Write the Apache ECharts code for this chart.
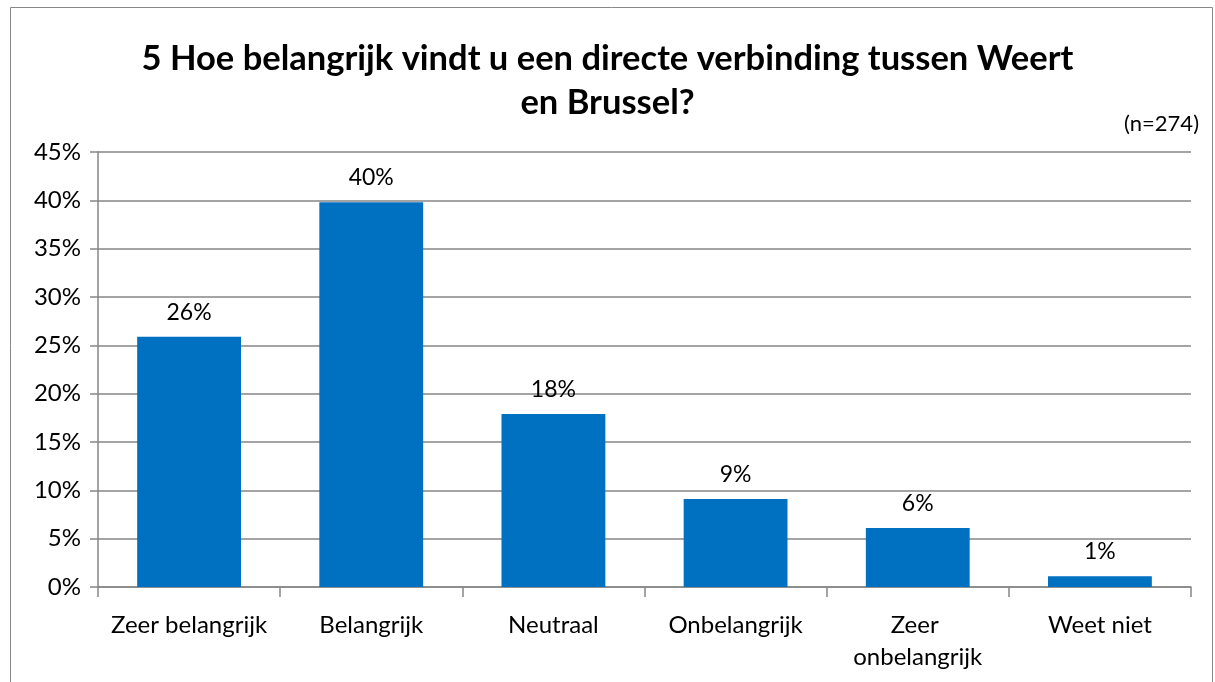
<!DOCTYPE html>
<html>
<head>
<meta charset="utf-8">
<script src="https://cdn.jsdelivr.net/npm/echarts@6/dist/echarts.min.js"></script>
<style>
  html, body { margin: 0; padding: 0; background: #fff; }
  #chart { width: 1215px; height: 682px; }
</style>
</head>
<body>
<div id="chart"></div>
<script>
  // antwoorden en percentages
  const categories = ['Zeer belangrijk', 'Belangrijk', 'Neutraal', 'Onbelangrijk', 'Zeer onbelangrijk', 'Weet niet'];
  const percentages = [25.9, 39.8, 17.9, 9.1, 6.1, 1.1];
  const yTicks = [0, 5, 10, 15, 20, 25, 30, 35, 40, 45];
  const titleText = '5 Hoe belangrijk vindt u een directe verbinding tussen Weert\nen Brussel?';
  const noteText = '(n=274)';

  const font = 'Lato, "Open Sans", sans-serif';
  const chart = echarts.init(document.getElementById('chart'));
  chart.setOption({
    backgroundColor: '#fff',
    animation: false,
    title: {
      text: titleText,
      left: 'center',
      top: 32,
      textStyle: {
        color: '#000',
        fontFamily: font,
        fontWeight: 'bold',
        fontSize: 34.5,
        lineHeight: 44
      }
    },
    graphic: [
      {
        type: 'rect',
        shape: { x: 10.5, y: 7.5, width: 1202, height: 690 },
        style: { fill: 'none', stroke: '#888', lineWidth: 1 }
      },
      {
        type: 'text',
        right: 16,
        top: 113,
        style: { text: noteText, font: '22px ' + font, fill: '#000' }
      }
    ],
    grid: {
      left: 98,
      right: 24,
      top: 152,
      bottom: 95
    },
    xAxis: {
      type: 'category',
      data: categories,
      axisLine: { lineStyle: { color: '#868686', width: 1.5 } },
      axisTick: { show: true, length: 10, lineStyle: { color: '#868686', width: 1.5 } },
      axisLabel: {
        color: '#000',
        fontFamily: font,
        fontSize: 24,
        margin: 22,
        lineHeight: 32,
        interval: 0,
        width: 172,
        overflow: 'break'
      }
    },
    yAxis: {
      type: 'value',
      min: yTicks[0],
      max: yTicks[yTicks.length - 1],
      interval: 5,
      axisLine: { show: true, lineStyle: { color: '#868686', width: 1.5 } },
      axisTick: { show: true, length: 8, lineStyle: { color: '#868686', width: 1.5 } },
      splitLine: { show: true, lineStyle: { color: '#868686', width: 1.5 } },
      axisLabel: {
        color: '#000',
        fontFamily: font,
        fontSize: 24,
        margin: 17,
        formatter: function (v) { return v + '%'; }
      }
    },
    series: [{
      type: 'bar',
      data: percentages,
      barWidth: '57%',
      itemStyle: { color: '#0070C0' },
      label: {
        show: true,
        position: 'top',
        distance: 13,
        color: '#000',
        fontFamily: font,
        fontSize: 23,
        formatter: function (p) { return Math.round(p.value) + '%'; }
      }
    }]
  });
</script>
</body>
</html>
